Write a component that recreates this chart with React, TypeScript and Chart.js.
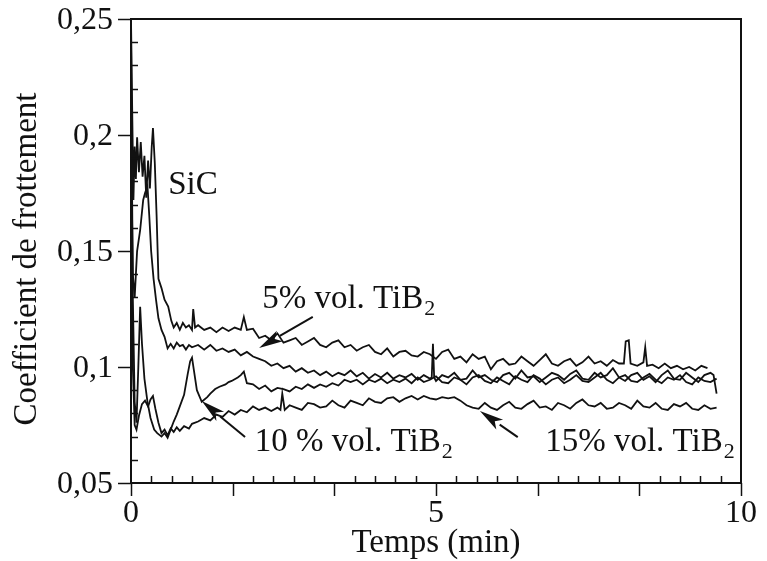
import React, { useEffect, useRef } from "react";
import { Chart, registerables } from "chart.js";

Chart.register(...registerables);

// ---------- data (time in min, coefficient of friction) ----------
const sicTime = [0, 0.02, 0.04, 0.06, 0.08, 0.1, 0.13, 0.16, 0.19, 0.22, 0.25, 0.28, 0.31, 0.34, 0.36, 0.39, 0.42, 0.45, 0.5, 0.55, 0.61, 0.66, 0.7, 0.75, 0.8, 0.85, 0.9, 0.95, 1.0, 1.02, 1.05,
  1.1, 1.2, 1.3, 1.4, 1.5, 1.6, 1.7, 1.8, 1.85, 1.9, 2.0, 2.1, 2.2, 2.3, 2.4, 2.5, 2.6, 2.7, 2.8, 2.9, 3.0, 3.1, 3.2, 3.3, 3.4, 3.5, 3.6, 3.7, 3.8, 3.9, 4.0, 4.1, 4.2, 4.3, 4.4, 4.5, 4.6, 4.7, 4.8, 4.9,
  5.0, 5.1, 5.2, 5.3, 5.4, 5.5, 5.6, 5.7, 5.8, 5.9, 6.0, 6.1, 6.2, 6.3, 6.4, 6.5, 6.6, 6.7, 6.8, 6.9, 7.0, 7.1, 7.2, 7.3, 7.4, 7.5, 7.6, 7.7, 7.8, 7.9, 8.0, 8.08, 8.11, 8.16, 8.19,
  8.3, 8.4, 8.43, 8.46, 8.55, 8.65, 8.75, 8.85, 8.95, 9.05, 9.15, 9.25, 9.35, 9.45];
const sicCoef = [0.25, 0.21, 0.172, 0.195, 0.181, 0.199, 0.184, 0.197, 0.182, 0.191, 0.173, 0.189, 0.177, 0.195, 0.203, 0.188, 0.165, 0.138, 0.134, 0.129, 0.126, 0.12, 0.117, 0.119, 0.116, 0.119, 0.117, 0.118, 0.116, 0.125, 0.117,
  0.118, 0.116, 0.117, 0.115, 0.117, 0.1155, 0.117, 0.116, 0.1215, 0.116, 0.1165,
  0.1125, 0.1135, 0.1115, 0.1145, 0.1105, 0.1115, 0.1125, 0.1095, 0.111, 0.1125, 0.1095, 0.1085, 0.1105, 0.1115, 0.1085, 0.1095, 0.107, 0.1085, 0.1095, 0.1065, 0.1055, 0.108, 0.1045, 0.1065, 0.107, 0.105, 0.1045, 0.1065, 0.1055,
  0.1035, 0.1065, 0.1075, 0.1035, 0.1045, 0.102, 0.1055, 0.1035, 0.1045, 0.099, 0.1025, 0.1035, 0.101, 0.1015, 0.1045, 0.1025, 0.1005, 0.103, 0.1055, 0.1015, 0.1005, 0.1025, 0.1035, 0.1005, 0.102, 0.1045, 0.1015, 0.1025, 0.1005, 0.103, 0.1015, 0.1015, 0.111, 0.1115, 0.1015,
  0.1005, 0.102, 0.1085, 0.1005, 0.101, 0.0995, 0.1015, 0.0995, 0.1005, 0.099, 0.1, 0.0985, 0.1005, 0.0995];

const tib5Time = [0, 0.03, 0.06, 0.1, 0.15, 0.2, 0.23, 0.27, 0.3, 0.33, 0.37, 0.41, 0.45, 0.5, 0.55, 0.6, 0.65, 0.7, 0.75, 0.8, 0.85, 0.9, 0.95, 1.0,
  1.1, 1.2, 1.3, 1.4, 1.5, 1.6, 1.7, 1.8, 1.9, 2.0, 2.1, 2.2, 2.3, 2.4, 2.5, 2.6, 2.7, 2.8, 2.9, 3.0, 3.1, 3.2, 3.3, 3.4, 3.5, 3.6, 3.7, 3.8, 3.9, 4.0, 4.1, 4.2, 4.3, 4.4, 4.5, 4.6, 4.7, 4.8, 4.9, 4.93, 4.95, 4.97,
  5.0, 5.1, 5.2, 5.3, 5.4, 5.5, 5.6, 5.7, 5.8, 5.9, 6.0, 6.1, 6.2, 6.3, 6.4, 6.5, 6.6, 6.7, 6.8, 6.9, 7.0, 7.1, 7.2, 7.3, 7.4, 7.5, 7.6, 7.7, 7.8, 7.9, 8.0, 8.1, 8.2, 8.3, 8.4, 8.5, 8.6, 8.7, 8.8, 8.9, 9.0, 9.1, 9.2, 9.3, 9.4, 9.5, 9.55, 9.6];
const tib5Coef = [0.2, 0.14, 0.13, 0.15, 0.159, 0.172, 0.175, 0.178, 0.165, 0.15, 0.138, 0.129, 0.121, 0.116, 0.113, 0.108, 0.11, 0.108, 0.1105, 0.109, 0.1095, 0.1075, 0.1095, 0.1085,
  0.1095, 0.1075, 0.1095, 0.107, 0.108, 0.1065, 0.1075, 0.105, 0.1065, 0.1045, 0.1035, 0.1025, 0.1005, 0.1015, 0.0995, 0.1005, 0.098, 0.0995, 0.0975, 0.0985, 0.0965, 0.098, 0.096, 0.0975, 0.0965, 0.0985, 0.096, 0.0975, 0.095, 0.097, 0.0955, 0.0975, 0.095, 0.0965, 0.0955, 0.097, 0.0945, 0.0965, 0.095, 0.0955, 0.11, 0.0955,
  0.094, 0.0965, 0.0955, 0.0975, 0.0945, 0.095, 0.0985, 0.0955, 0.0965, 0.0945, 0.0935, 0.0965, 0.0975, 0.095, 0.0985, 0.0955, 0.096, 0.0935, 0.0955, 0.0975, 0.0965, 0.0945, 0.097, 0.0985, 0.095, 0.0945, 0.0975, 0.0955, 0.0965, 0.0995, 0.0955, 0.094, 0.0965, 0.0975, 0.0945, 0.096, 0.0935, 0.0965, 0.0985, 0.095, 0.0945, 0.0975, 0.0955, 0.0935, 0.0965, 0.0975, 0.0965, 0.0885];

const tib10Time = [0, 0.03, 0.06, 0.09, 0.12, 0.15, 0.18, 0.22, 0.27, 0.32, 0.38, 0.43, 0.5, 0.55, 0.6, 0.65, 0.7, 0.75, 0.8, 0.87, 0.93, 0.97, 1.0, 1.04, 1.08, 1.16, 1.25, 1.3, 1.38, 1.45, 1.55, 1.6, 1.65, 1.75, 1.8, 1.85, 1.9, 2.0,
  2.1, 2.2, 2.3, 2.4, 2.5, 2.6, 2.7, 2.8, 2.9, 3.0, 3.1, 3.2, 3.3, 3.4, 3.5, 3.6, 3.7, 3.8, 3.9, 4.0, 4.1, 4.2, 4.3, 4.4, 4.5, 4.6, 4.7, 4.8, 4.9,
  5.0, 5.1, 5.2, 5.3, 5.4, 5.5, 5.6, 5.7, 5.8, 5.9, 6.0, 6.1, 6.2, 6.3, 6.4, 6.5, 6.6, 6.7, 6.8, 6.9, 7.0, 7.1, 7.2, 7.3, 7.4, 7.5, 7.6, 7.7, 7.8, 7.9, 8.0, 8.1, 8.2, 8.3, 8.4, 8.5, 8.6, 8.7, 8.8, 8.9, 9.0, 9.1, 9.2, 9.3, 9.4, 9.5, 9.6];
const tib10Coef = [0.245, 0.13, 0.085, 0.076, 0.1, 0.126, 0.11, 0.095, 0.085, 0.078, 0.073, 0.0715, 0.07, 0.0715, 0.0695, 0.073, 0.0765, 0.0795, 0.083, 0.088, 0.097, 0.1025, 0.104, 0.097, 0.09, 0.085, 0.087, 0.0885, 0.0905, 0.0915, 0.0925, 0.0935, 0.094, 0.0955, 0.0965, 0.098, 0.093, 0.0925,
  0.0905, 0.092, 0.0895, 0.091, 0.0905, 0.0895, 0.0915, 0.0905, 0.0925, 0.091, 0.0925, 0.0915, 0.093, 0.092, 0.0945, 0.0935, 0.0945, 0.0925, 0.0945, 0.0935, 0.095, 0.093, 0.0945, 0.0935, 0.095, 0.093, 0.0955, 0.0935, 0.0945,
  0.096, 0.0935, 0.093, 0.0955, 0.0945, 0.0925, 0.0955, 0.0965, 0.094, 0.093, 0.0955, 0.094, 0.0925, 0.096, 0.0945, 0.0935, 0.0965, 0.095, 0.0925, 0.0945, 0.0955, 0.093, 0.0945, 0.0965, 0.094, 0.0935, 0.0955, 0.0975, 0.0945, 0.093, 0.0955, 0.0965, 0.094, 0.0935, 0.0955, 0.097, 0.0945, 0.093, 0.0955, 0.0945, 0.0965, 0.0935, 0.0925, 0.0955, 0.094, 0.0935, 0.095];

const tib15Time = [0, 0.03, 0.06, 0.09, 0.13, 0.18, 0.23, 0.28, 0.32, 0.36, 0.4, 0.45, 0.5, 0.55, 0.6, 0.65, 0.7, 0.75, 0.8, 0.87, 0.95, 1.0,
  1.1, 1.2, 1.3, 1.4, 1.5, 1.6, 1.7, 1.8, 1.9, 2.0, 2.1, 2.2, 2.3, 2.4, 2.45, 2.48, 2.52, 2.6, 2.7, 2.8, 2.9, 3.0, 3.1, 3.2, 3.3, 3.4, 3.5, 3.6, 3.7, 3.8, 3.9, 4.0, 4.1, 4.2, 4.3, 4.4, 4.5, 4.6, 4.7, 4.8, 4.9,
  5.0, 5.1, 5.2, 5.3, 5.4, 5.5, 5.6, 5.7, 5.8, 5.9, 6.0, 6.1, 6.2, 6.3, 6.4, 6.5, 6.6, 6.7, 6.8, 6.9, 7.0, 7.1, 7.2, 7.3, 7.4, 7.5, 7.6, 7.7, 7.8, 7.9, 8.0, 8.1, 8.2, 8.3, 8.4, 8.5, 8.6, 8.7, 8.8, 8.9, 9.0, 9.1, 9.2, 9.3, 9.4, 9.5, 9.6];
const tib15Coef = [0.17, 0.1, 0.075, 0.073, 0.079, 0.084, 0.0855, 0.083, 0.086, 0.0875, 0.082, 0.076, 0.0715, 0.073, 0.0705, 0.0735, 0.072, 0.074, 0.0725, 0.0745, 0.0735, 0.0755,
  0.0765, 0.078, 0.077, 0.0795, 0.0785, 0.081, 0.0795, 0.0815, 0.0805, 0.083, 0.0815, 0.0825, 0.081, 0.0825, 0.0815, 0.0885, 0.0815,
  0.0835, 0.0825, 0.0815, 0.0845, 0.084, 0.0825, 0.083, 0.0855, 0.0835, 0.0825, 0.0855, 0.0845, 0.0835, 0.0865, 0.085, 0.0845, 0.0865, 0.087, 0.085, 0.0865, 0.0875, 0.086, 0.0875, 0.0865,
  0.086, 0.087, 0.0865, 0.087, 0.0855,
  0.0835, 0.0825, 0.082, 0.0845, 0.0825, 0.0815, 0.0835, 0.085, 0.0825, 0.082, 0.084, 0.0855, 0.0825, 0.083, 0.0815, 0.0845, 0.0835, 0.082, 0.0845, 0.086, 0.0835, 0.083, 0.0845, 0.082, 0.0825, 0.0845, 0.0835, 0.082, 0.0855, 0.083, 0.0825, 0.0845, 0.082, 0.0815, 0.084, 0.083, 0.0845, 0.082, 0.0815, 0.0835, 0.082, 0.0825];

// ---------- axes & annotations ----------
const xTickValues = [0, 5, 10];
const xTickLabels = ["0", "5", "10"];
const yTickValues = [0.05, 0.1, 0.15, 0.2, 0.25];
const yTickLabels = ["0,05", "0,1", "0,15", "0,2", "0,25"];
const xTitle = "Temps (min)";
const yTitle = "Coefficient de frottement";

// labels: text + subscript, left x (min), baseline y (coef)
const labelTexts = ["SiC", "5% vol. TiB", "10 % vol. TiB", "15% vol. TiB"];
const labelSubs = ["", "2", "2", "2"];
const labelX = [0.61, 2.15, 2.03, 6.79];
const labelY = [0.1746, 0.1254, 0.0638, 0.0638];
// arrows: tail (x,y) -> tip (x,y)
const arrowTailX = [2.98, 1.87, 6.34];
const arrowTailY = [0.1216, 0.0698, 0.0698];
const arrowTipX = [2.1, 1.16, 5.72];
const arrowTipY = [0.1082, 0.0853, 0.081];

const FONT = "'Liberation Serif', 'Times New Roman', serif";
const INK = "#111";

function toPoints(xs: number[], ys: number[]) {
  return xs.map((x, i) => ({ x, y: ys[i] }));
}

const overlay = {
  id: "overlay",
  afterDatasetsDraw(chart: any) {
    const { ctx, chartArea: a, scales } = chart;
    const xs = scales.x;
    const ys = scales.y;
    ctx.save();
    ctx.strokeStyle = INK;
    ctx.fillStyle = INK;
    ctx.lineWidth = 2;
    ctx.strokeRect(a.left, a.top, a.right - a.left, a.bottom - a.top);

    ctx.lineWidth = 1.5;
    // y minor inward ticks every 0.01
    for (let k = 6; k <= 24; k++) {
      if (k % 5 === 0) continue;
      const py = Math.round(ys.getPixelForValue(k / 100)) + 0.5;
      ctx.beginPath();
      ctx.moveTo(a.left, py);
      ctx.lineTo(a.left + 7, py);
      ctx.stroke();
    }
    // y major outward ticks + labels
    ctx.font = `32px ${FONT}`;
    ctx.textAlign = "right";
    ctx.textBaseline = "middle";
    yTickValues.forEach((v, i) => {
      const py = Math.round(ys.getPixelForValue(v)) + 0.5;
      ctx.beginPath();
      ctx.moveTo(a.left - 13, py);
      ctx.lineTo(a.left, py);
      ctx.stroke();
      ctx.fillText(yTickLabels[i], a.left - 18, py + 1);
    });
    // x ticks: inward every 1/3 min, outward every 5/3 min
    for (let j = 1; j < 30; j++) {
      if (j % 5 === 0) continue;
      const px = Math.round(xs.getPixelForValue(j / 3)) + 0.5;
      ctx.beginPath();
      ctx.moveTo(px, a.bottom);
      ctx.lineTo(px, a.bottom - 7);
      ctx.stroke();
    }
    for (let j = 0; j <= 6; j++) {
      const px = Math.round(xs.getPixelForValue((j * 5) / 3)) + 0.5;
      ctx.beginPath();
      ctx.moveTo(px, a.bottom);
      ctx.lineTo(px, a.bottom + 13);
      ctx.stroke();
    }
    ctx.textAlign = "center";
    ctx.textBaseline = "middle";
    xTickValues.forEach((v, i) => {
      ctx.fillText(xTickLabels[i], xs.getPixelForValue(v), a.bottom + 31);
    });
    // titles
    ctx.font = `33px ${FONT}`;
    ctx.fillText(xTitle, (a.left + a.right) / 2, a.bottom + 60);
    ctx.save();
    ctx.translate(27, 259);
    ctx.rotate(-Math.PI / 2);
    ctx.fillText(yTitle, 0, 0);
    ctx.restore();

    // annotation labels
    ctx.textAlign = "left";
    ctx.textBaseline = "alphabetic";
    labelTexts.forEach((t, i) => {
      const px = xs.getPixelForValue(labelX[i]);
      const py = ys.getPixelForValue(labelY[i]);
      ctx.font = `33px ${FONT}`;
      ctx.fillText(t, px, py);
      if (labelSubs[i]) {
        const w = ctx.measureText(t).width;
        ctx.font = `22px ${FONT}`;
        ctx.fillText(labelSubs[i], px + w + 1, py + 7);
      }
    });
    // arrows
    ctx.lineWidth = 2;
    arrowTailX.forEach((_, i) => {
      const x0 = xs.getPixelForValue(arrowTailX[i]);
      const y0 = ys.getPixelForValue(arrowTailY[i]);
      const x1 = xs.getPixelForValue(arrowTipX[i]);
      const y1 = ys.getPixelForValue(arrowTipY[i]);
      const ang = Math.atan2(y1 - y0, x1 - x0);
      const hl = 24;
      const hw = 6;
      const bx = x1 - hl * Math.cos(ang);
      const by = y1 - hl * Math.sin(ang);
      ctx.beginPath();
      ctx.moveTo(x0, y0);
      ctx.lineTo(bx, by);
      ctx.stroke();
      ctx.beginPath();
      ctx.moveTo(x1, y1);
      ctx.lineTo(bx + hw * Math.sin(ang), by - hw * Math.cos(ang));
      ctx.lineTo(bx + 6 * Math.cos(ang), by + 6 * Math.sin(ang));
      ctx.lineTo(bx - hw * Math.sin(ang), by + hw * Math.cos(ang));
      ctx.closePath();
      ctx.fill();
    });
    ctx.restore();
  },
};

export default function App() {
  const ref = useRef<HTMLCanvasElement | null>(null);
  useEffect(() => {
    const canvas = ref.current;
    if (!canvas) return;
    const series = [
      toPoints(sicTime, sicCoef),
      toPoints(tib5Time, tib5Coef),
      toPoints(tib10Time, tib10Coef),
      toPoints(tib15Time, tib15Coef),
    ];
    const chart = new Chart(canvas, {
      type: "line",
      data: {
        datasets: series.map((d, i) => ({
          label: ["SiC", "5% vol. TiB2", "10 % vol. TiB2", "15% vol. TiB2"][i],
          data: d,
          borderColor: INK,
          borderWidth: 1.8,
          pointRadius: 0,
          tension: 0,
          fill: false,
        })),
      },
      options: {
        animation: false,
        responsive: false,
        devicePixelRatio: 1,
        layout: { padding: { left: 131, right: 26, top: 19, bottom: 78 } },
        plugins: { legend: { display: false }, tooltip: { enabled: false } },
        scales: {
          x: { type: "linear", min: 0, max: 10, display: false },
          y: { type: "linear", min: 0.05, max: 0.25, display: false },
        },
      },
      plugins: [overlay],
    });
    return () => chart.destroy();
  }, []);
  return (
    <div style={{ position: "absolute", left: 0, top: 0, width: 767, height: 561, background: "#fff" }}>
      <canvas ref={ref} width={767} height={561} style={{ width: 767, height: 561, display: "block" }} />
    </div>
  );
}
